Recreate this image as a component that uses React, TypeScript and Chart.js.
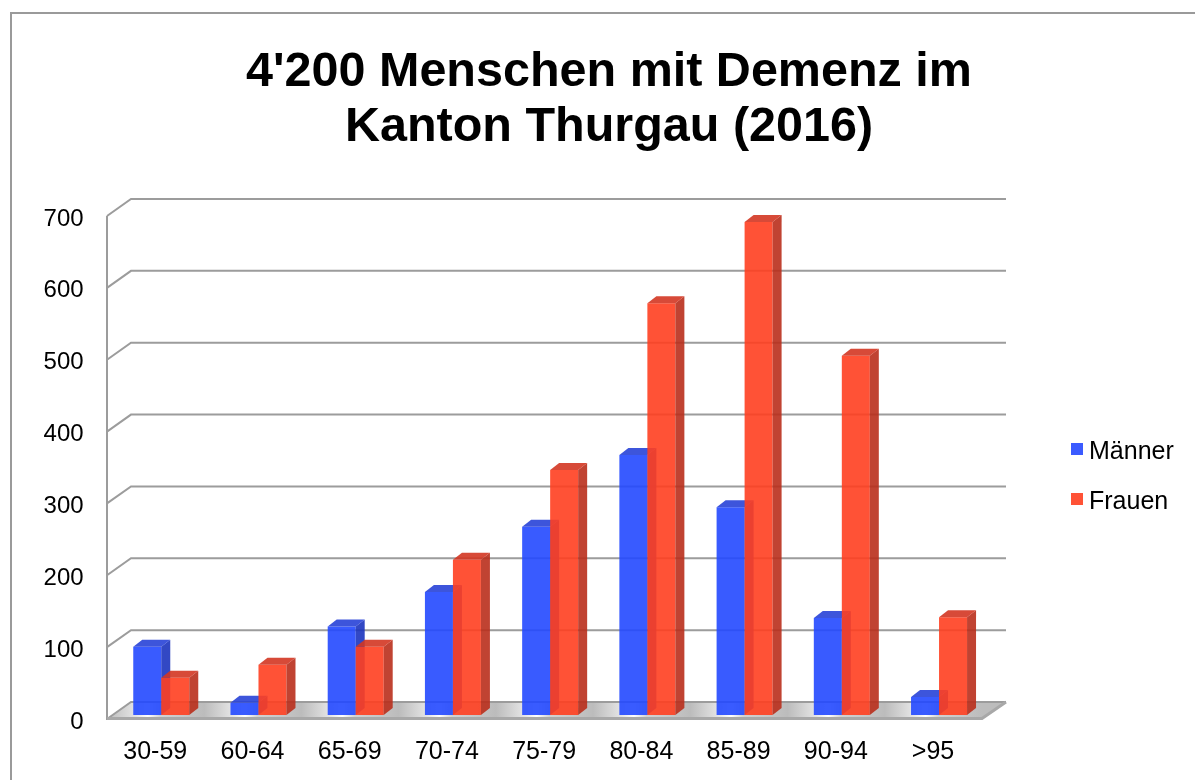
import React, { useEffect, useRef } from "react";
import { Chart, registerables } from "chart.js";

Chart.register(...registerables);

// ---------- data ----------
const TITLE_LINES = ["4'200 Menschen mit Demenz im", "Kanton Thurgau (2016)"];
const CATEGORIES = ["30-59", "60-64", "65-69", "70-74", "75-79", "80-84", "85-89", "90-94", ">95"];
const MAENNER = [95, 17, 123, 171, 262, 362, 289, 135, 25];
const FRAUEN = [52, 70, 95, 216, 341, 573, 686, 500, 136];
const SERIES_LABELS = ["Männer", "Frauen"];
const Y_MIN = 0;
const Y_MAX = 700;
const Y_STEP = 100;

// ---------- style ----------
const FONT = '"Liberation Sans", Arial, Helvetica, sans-serif';
const W = 1195;
const H = 780;
const DEPTH_DX = 24;
const DEPTH_DY = -17;
const FRONT_FRAC = 4 / 17;
const BAR_DX = 9;
const BAR_DY = -7;
const GRID_COLOR = "#9c9c9c";

const COLORS = [
  { front: "rgba(36,73,255,0.9)", side: "rgba(28,52,190,0.9)", top: "rgba(40,66,215,0.9)", legend: "#3B5BFF" },
  { front: "rgba(255,63,32,0.9)", side: "rgba(185,47,28,0.9)", top: "rgba(211,54,34,0.9)", legend: "#FF5236" },
];

function poly(ctx: CanvasRenderingContext2D, pts: number[][]) {
  ctx.beginPath();
  ctx.moveTo(pts[0][0], pts[0][1]);
  for (let i = 1; i < pts.length; i++) ctx.lineTo(pts[i][0], pts[i][1]);
  ctx.closePath();
  ctx.fill();
}

function drawFaces(chart: any, index: number) {
  const ctx: CanvasRenderingContext2D = chart.ctx;
  const meta = chart.getDatasetMeta(index);
  const c = COLORS[index];
  ctx.save();
  meta.data.forEach((el: any) => {
    const { x, y, base, width } = el.getProps(["x", "y", "base", "width"], true);
    const l = x - width / 2;
    const r = x + width / 2;
    ctx.fillStyle = c.side;
    poly(ctx, [[r, y], [r + BAR_DX, y + BAR_DY], [r + BAR_DX, base + BAR_DY], [r, base]]);
    ctx.fillStyle = c.top;
    poly(ctx, [[l, y], [l + BAR_DX, y + BAR_DY], [r + BAR_DX, y + BAR_DY], [r, y]]);
  });
  ctx.restore();
}

const threeDPlugin = {
  id: "threeD",
  beforeDraw(chart: any) {
    const ctx: CanvasRenderingContext2D = chart.ctx;
    ctx.save();
    ctx.fillStyle = "#ffffff";
    ctx.fillRect(0, 0, chart.width, chart.height);
    ctx.strokeStyle = "#9a9a9a";
    ctx.lineWidth = 2;
    ctx.beginPath();
    ctx.moveTo(11, H);
    ctx.lineTo(11, 13);
    ctx.lineTo(W, 13);
    ctx.stroke();
    ctx.restore();
  },
  beforeDatasetsDraw(chart: any) {
    const ctx: CanvasRenderingContext2D = chart.ctx;
    const area = chart.chartArea;
    const ys = chart.scales.y;
    const fx = -FRONT_FRAC * DEPTH_DX;
    const fy = -FRONT_FRAC * DEPTH_DY;
    const bx = (1 - FRONT_FRAC) * DEPTH_DX;
    const by = (1 - FRONT_FRAC) * DEPTH_DY;
    const y0 = ys.getPixelForValue(Y_MIN);
    const yTop = ys.getPixelForValue(Y_MAX);
    const FL = area.left + fx;
    const FR = area.right + fx;
    const FY = y0 + fy;
    const BL = area.left + bx;
    const BR = area.right + bx;
    const BY = y0 + by;

    ctx.save();
    // floor
    const grad = ctx.createLinearGradient(FL, 0, FR, 0);
    const n = CATEGORIES.length;
    for (let i = 0; i < n; i++) {
      const s = i / n;
      const step = 1 / n;
      grad.addColorStop(s, "#bcbcbc");
      grad.addColorStop(s + step * 0.3, "#e6e6e6");
      grad.addColorStop(s + step * 0.42, "#ffffff");
      grad.addColorStop(s + step * 0.55, "#d2d2d2");
      grad.addColorStop(Math.min(1, s + step * 0.999), "#bcbcbc");
    }
    ctx.fillStyle = grad;
    poly(ctx, [[FL, FY], [FR, FY], [BR, BY], [BL, BY]]);

    ctx.strokeStyle = GRID_COLOR;
    ctx.lineWidth = 2;
    // back gridlines and diagonals
    ys.ticks.forEach((t: any) => {
      const yb = ys.getPixelForValue(t.value);
      ctx.beginPath();
      ctx.moveTo(FL, yb + fy);
      ctx.lineTo(BL, yb + by);
      ctx.lineTo(BR, yb + by);
      ctx.stroke();
    });
    // front vertical axis
    ctx.beginPath();
    ctx.moveTo(FL, yTop + fy);
    ctx.lineTo(FL, FY + 1);
    ctx.stroke();
    // floor front edge and right edge
    ctx.strokeStyle = "#a8a8a8";
    ctx.lineWidth = 3;
    ctx.beginPath();
    ctx.moveTo(FL, FY - 0.5);
    ctx.lineTo(FR, FY - 0.5);
    ctx.lineTo(BR, BY);
    ctx.stroke();
    ctx.restore();
  },
  beforeDatasetDraw(chart: any, args: any) {
    if (args.index === 1) return false;
    return true;
  },
  afterDatasetDraw(chart: any, args: any) {
    if (args.index === 0) drawFaces(chart, 0);
  },
  afterDatasetsDraw(chart: any) {
    const meta = chart.getDatasetMeta(1);
    meta.controller.draw();
    drawFaces(chart, 1);
  },
  afterDraw(chart: any) {
    const ctx: CanvasRenderingContext2D = chart.ctx;
    ctx.save();
    // title
    ctx.fillStyle = "#000000";
    ctx.font = `bold 48.5px ${FONT}`;
    ctx.textAlign = "center";
    ctx.textBaseline = "alphabetic";
    TITLE_LINES.forEach((line, i) => ctx.fillText(line, 609, 86 + i * 55));
    // legend
    ctx.font = `25px ${FONT}`;
    ctx.textAlign = "left";
    chart.data.datasets.forEach((ds: any, i: number) => {
      ctx.fillStyle = COLORS[i].legend;
      ctx.fillRect(1071, 443 + i * 50, 12, 12);
      ctx.fillStyle = "#000000";
      ctx.fillText(ds.label, 1089, 459 + i * 50);
    });
    ctx.restore();
  },
};

export default function App() {
  const ref = useRef<HTMLCanvasElement | null>(null);

  useEffect(() => {
    if (!ref.current) return;
    const chart = new Chart(ref.current, {
      type: "bar",
      data: {
        labels: CATEGORIES,
        datasets: [
          { label: SERIES_LABELS[0], data: MAENNER, backgroundColor: COLORS[0].front, borderWidth: 0 },
          { label: SERIES_LABELS[1], data: FRAUEN, backgroundColor: COLORS[1].front, borderWidth: 0 },
        ],
      },
      options: {
        responsive: false,
        maintainAspectRatio: false,
        animation: false,
        events: [],
        layout: { padding: { left: 12.65, right: 207.35, top: 212, bottom: 15 } },
        datasets: { bar: { categoryPercentage: 0.576, barPercentage: 1 } },
        plugins: { legend: { display: false }, title: { display: false }, tooltip: { enabled: false } },
        scales: {
          x: {
            grid: { display: false, drawTicks: false },
            border: { display: false },
            ticks: {
              font: { family: FONT, size: 25 },
              color: "#000000",
              padding: 22,
              labelOffset: -6,
              autoSkip: false,
              maxRotation: 0,
            },
            afterFit: (s: any) => {
              s.height = 50;
            },
          },
          y: {
            min: Y_MIN,
            max: Y_MAX,
            grid: { display: false, drawTicks: false },
            border: { display: false },
            ticks: {
              stepSize: Y_STEP,
              font: { family: FONT, size: 24 },
              color: "#000000",
              padding: 29,
              labelOffset: 7,
            },
            afterFit: (s: any) => {
              s.width = 100;
            },
          },
        },
      },
      plugins: [threeDPlugin],
    });
    return () => chart.destroy();
  }, []);

  return (
    <div style={{ position: "fixed", left: 0, top: 0, width: W, height: H, background: "#fff" }}>
      <canvas ref={ref} width={W} height={H} style={{ display: "block" }} />
    </div>
  );
}
